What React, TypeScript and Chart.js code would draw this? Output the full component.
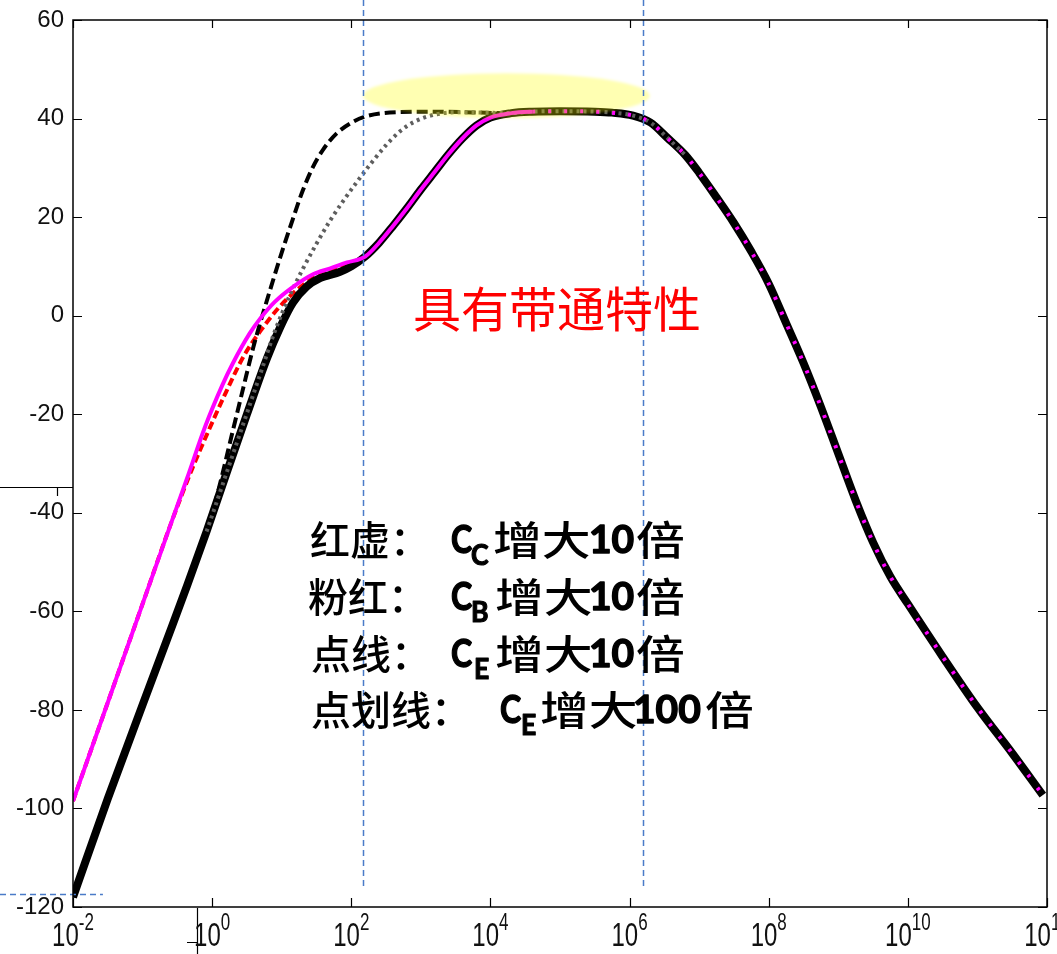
import React, { useEffect, useRef } from 'react';
import { Chart, registerables } from 'chart.js';

Chart.register(...registerables);

// ---------------- data (x = log10 of frequency, y = gain in dB) ----------------
const xTickExponents = [-2, 0, 2, 4, 6, 8, 10, 12];
const yTickValues = [-120, -100, -80, -60, -40, -20, 0, 20, 40, 60];

// shared high-frequency part (all curves coincide)
const rollLogF = [4.3, 4.6, 5.0, 5.5, 5.75, 6.05, 6.3, 6.55, 6.8, 7.0, 7.25, 7.5, 7.75, 8.0, 8.25, 8.5, 8.75, 9.0, 9.25, 9.5, 9.75, 10.0, 10.5, 11.0, 11.5, 11.94];
const rollDb = [41.1, 41.4, 41.5, 41.4, 41.2, 40.6, 39.2, 36.0, 32.6, 29.0, 24.0, 18.8, 13.0, 6.5, -1.5, -9.6, -18.5, -28.0, -37.5, -46.0, -53.0, -58.5, -69.2, -79.5, -88.8, -97.3];

// original circuit (thick black)
const baseLogF = [-2.0, -1.5, -1.0, -0.65, -0.36, -0.08, 0.21, 0.5, 0.79, 0.98, 1.16, 1.36, 1.55, 1.84, 2.0, 2.2, 2.4, 2.6, 2.8, 3.0, 3.2, 3.4, 3.6, 3.8, 4.0];
const baseDb = [-118, -98, -79, -65.8, -54.8, -43.8, -31.8, -20.0, -8.6, -2.3, 2.6, 5.9, 7.6, 8.9, 10.0, 12.0, 14.8, 18.2, 21.8, 25.6, 29.2, 32.8, 36.0, 38.6, 40.2];

// CB x10 (magenta)
const cbLogF = [-2.0, -1.5, -1.0, -0.6, -0.36, -0.1, 0.15, 0.3, 0.54, 0.69, 0.9, 1.12, 1.45, 1.7, 1.94, 2.2, 2.4, 2.6, 2.8, 3.0, 3.2, 3.4, 3.6, 3.8, 4.0];
const cbDb = [-98.5, -78.5, -58.5, -42.5, -33, -22.5, -14, -9.6, -3.6, -0.6, 2.8, 5.4, 8.4, 9.6, 10.8, 12.0, 14.8, 18.2, 21.8, 25.6, 29.2, 32.8, 36.0, 38.6, 40.2];

// CC x10 (red dashed)
const ccLogF = [-2.0, -1.5, -1.0, -0.6, -0.3, -0.05, 0.2, 0.45, 0.7, 0.95, 1.2, 1.45, 1.7, 1.94, 2.2, 2.4, 2.6, 2.8, 3.0, 3.2, 3.4, 3.6, 3.8, 4.0];
const ccDb = [-98.5, -78.5, -58.5, -42.5, -31.5, -23.3, -15.5, -8.3, -3.0, 1.5, 5.0, 7.6, 9.0, 10.4, 12.0, 14.8, 18.2, 21.8, 25.6, 29.2, 32.8, 36.0, 38.6, 40.2];

// CE x10 (grey dotted)
const ce10LogF = [-2.0, -1.5, -1.0, -0.65, -0.36, -0.08, 0.21, 0.5, 0.7, 0.9, 1.1, 1.3, 1.5, 1.7, 1.9, 2.1, 2.3, 2.5, 2.7, 2.9, 3.2, 3.6];
const ce10Db = [-118, -98, -79, -65.8, -54.8, -43.8, -31.8, -19.8, -11.5, -3.2, 3.6, 9.4, 14.6, 19.4, 23.6, 27.5, 31.2, 34.6, 37.4, 39.3, 40.8, 41.3];

// CE x100 (black dash-dot)
const ce100LogF = [-2.0, -1.5, -1.0, -0.65, -0.36, -0.08, 0.07, 0.3, 0.45, 0.59, 0.69, 0.85, 1.0, 1.16, 1.3, 1.45, 1.6, 1.79, 2.02, 2.22, 2.66, 3.2];
const ce100Db = [-118, -98, -79, -65.8, -54.8, -43.8, -36.5, -23.2, -14.5, -6.5, -1.5, 6.0, 12.8, 19.6, 25.3, 30.2, 33.8, 37.0, 39.3, 40.5, 41.3, 41.4];

// annotation anchors in data units
const bandEdgesLogF = [2.17, 6.19];
const bandEdgeBottomDb = -116.3;
const lowRefDb = -117.3;
const lowRefEndLogF = -1.57;
const passbandEllipseLogF = [2.17, 6.29];
const passbandEllipseDb = [40.1, 49.2];

const bandTitle = '具有带通特性';
const legendLines = [
  { prefix: '红虚：', sub: 'C', factor: '10' },
  { prefix: '粉红：', sub: 'B', factor: '10' },
  { prefix: '点线：', sub: 'E', factor: '10' },
  { prefix: '点划线：', sub: 'E', factor: '100' },
];

// ---------------- layout (pixels) ----------------
const W = 1057;
const H = 954;
const legendLayout = [
  { y: 553, prefixX: 310, cX: 451, subX: 471, zengX: 493, factorX: 589, beiX: 636 },
  { y: 610, prefixX: 308, cX: 451, subX: 471, zengX: 495, factorX: 589, beiX: 636 },
  { y: 667, prefixX: 311, cX: 451, subX: 474, zengX: 495, factorX: 589, beiX: 636 },
  { y: 723, prefixX: 311, cX: 500, subX: 521, zengX: 540, factorX: 633, beiX: 705 },
];

const CJK = '"Noto Sans CJK SC", sans-serif';
const LAT = 'Lato, "Open Sans", sans-serif';
const TICKF = '"Liberation Sans", Arial, sans-serif';

function pts(xs: number[], ys: number[]) {
  return xs.map((x, i) => ({ x, y: ys[i] }));
}

const overlayPlugin = {
  id: 'overlayPlugin',
  afterDatasetsDraw(chart: any) {
    const { ctx, chartArea: a, scales } = chart;
    const xs = scales.x;
    const ys = scales.y;
    ctx.save();

    // pass-band highlight ellipse
    const ex0 = xs.getPixelForValue(passbandEllipseLogF[0]);
    const ex1 = xs.getPixelForValue(passbandEllipseLogF[1]);
    const ey0 = ys.getPixelForValue(passbandEllipseDb[0]);
    const ey1 = ys.getPixelForValue(passbandEllipseDb[1]);
    ctx.save();
    ctx.filter = 'blur(1.5px)';
    ctx.beginPath();
    ctx.ellipse((ex0 + ex1) / 2, (ey0 + ey1) / 2, Math.abs(ex1 - ex0) / 2, Math.abs(ey1 - ey0) / 2, 0, 0, Math.PI * 2);
    ctx.fillStyle = 'rgba(255,255,0,0.3)';
    ctx.fill();
    ctx.restore();

    // blue dashed markers
    ctx.strokeStyle = '#4a7bc8';
    ctx.lineWidth = 1.5;
    ctx.setLineDash([6, 4]);
    ctx.beginPath();
    const yb = ys.getPixelForValue(bandEdgeBottomDb);
    bandEdgesLogF.forEach((v) => {
      const px = Math.round(xs.getPixelForValue(v)) + 0.5;
      ctx.moveTo(px, 0);
      ctx.lineTo(px, yb);
    });
    const yl = Math.round(ys.getPixelForValue(lowRefDb)) + 0.5;
    ctx.moveTo(0, yl);
    ctx.lineTo(xs.getPixelForValue(lowRefEndLogF), yl);
    ctx.stroke();
    ctx.setLineDash([]);

    // axes box
    ctx.strokeStyle = '#000';
    ctx.lineWidth = 1.5;
    ctx.strokeRect(a.left, a.top, a.right - a.left, a.bottom - a.top);

    // ticks (inward, all four sides)
    ctx.lineWidth = 1.2;
    ctx.beginPath();
    xTickExponents.forEach((v) => {
      const px = Math.round(xs.getPixelForValue(v)) + 0.5;
      ctx.moveTo(px, a.bottom);
      ctx.lineTo(px, a.bottom - 9);
      ctx.moveTo(px, a.top);
      ctx.lineTo(px, a.top + 8);
    });
    yTickValues.forEach((v) => {
      const py = Math.round(ys.getPixelForValue(v)) + 0.5;
      ctx.moveTo(a.left, py);
      ctx.lineTo(a.left + 9, py);
      ctx.moveTo(a.right, py);
      ctx.lineTo(a.right - 9, py);
    });
    // remnants of an overlapped axis
    ctx.moveTo(0, 487.5);
    ctx.lineTo(a.left, 487.5);
    ctx.moveTo(57.5, 488);
    ctx.lineTo(57.5, 496);
    ctx.moveTo(197.5, a.bottom + 1);
    ctx.lineTo(197.5, H);
    ctx.moveTo(187, 942.5);
    ctx.lineTo(197.5, 942.5);
    ctx.stroke();

    // y tick labels
    ctx.fillStyle = '#111';
    ctx.font = `24px ${TICKF}`;
    ctx.textAlign = 'right';
    ctx.textBaseline = 'middle';
    yTickValues.forEach((v) => {
      ctx.fillText(String(v), a.left - 9, ys.getPixelForValue(v));
    });

    // x tick labels: 10^n, vertically stretched like the source
    ctx.textAlign = 'left';
    ctx.textBaseline = 'alphabetic';
    const sy = 1.4;
    xTickExponents.forEach((v) => {
      const px = xs.getPixelForValue(v);
      ctx.font = `24px ${TICKF}`;
      const wb = ctx.measureText('10').width;
      ctx.font = `17px ${TICKF}`;
      const we = ctx.measureText(String(v)).width;
      const left = px - (wb + we) / 2;
      ctx.save();
      ctx.translate(left, 946);
      ctx.scale(1, sy);
      ctx.font = `24px ${TICKF}`;
      ctx.fillText('10', 0, 0);
      ctx.restore();
      ctx.save();
      ctx.translate(left + wb, 930);
      ctx.scale(1, sy);
      ctx.font = `17px ${TICKF}`;
      ctx.fillText(String(v), 0, 0);
      ctx.restore();
    });

    // red title
    ctx.fillStyle = '#ff0000';
    ctx.font = `48px ${CJK}`;
    ctx.textBaseline = 'middle';
    ctx.fillText(bandTitle, 413, 309);

    // legend text
    ctx.fillStyle = '#000';
    ctx.strokeStyle = '#000';
    ctx.lineJoin = 'round';
    ctx.textBaseline = 'alphabetic';
    const drawScaled = (t: string, font: string, x: number, y: number, sx: number, heavy: number) => {
      ctx.save();
      ctx.translate(x, y);
      ctx.scale(sx, 1);
      ctx.font = font;
      ctx.fillText(t, 0, 0);
      if (heavy > 0) {
        ctx.lineWidth = heavy;
        ctx.strokeText(t, 0, 0);
      }
      ctx.restore();
    };
    legendLines.forEach((ln, i) => {
      const L = legendLayout[i];
      drawScaled(ln.prefix, `500 40px ${CJK}`, L.prefixX, L.y + 2, 1, 0);
      drawScaled('C', `bold 39px ${LAT}`, L.cX, L.y, 0.82, 1.4);
      drawScaled(ln.sub, `bold 28px ${LAT}`, L.subX, L.y + 12, 0.95, 1.1);
      drawScaled('增大', `500 40px ${CJK}`, L.zengX, L.y + 2, 1.22, 0);
      drawScaled(ln.factor, `bold 39px ${LAT}`, L.factorX, L.y, 1, 1.4);
      drawScaled('倍', `500 40px ${CJK}`, L.beiX, L.y + 2, 1.22, 0);
    });

    ctx.restore();
  },
};

export default function App() {
  const ref = useRef<HTMLCanvasElement | null>(null);

  useEffect(() => {
    document.body.style.margin = '0';
    const canvas = ref.current;
    if (!canvas) return;

    const roll = pts(rollLogF, rollDb);
    const datasets: any[] = [
      {
        label: 'CB x10',
        data: [...pts(cbLogF, cbDb), ...roll],
        borderColor: '#ff00ff',
        borderWidth: 4,
        order: 0,
        segment: {
          borderDash: (c: any) => (c.p0.parsed.x >= 4.5 ? [3, 13] : undefined),
        },
      },
      {
        label: 'CE x10',
        data: [...pts(ce10LogF, ce10Db), ...roll.filter((p) => p.x <= 6.8)],
        borderColor: '#5e5e5e',
        borderWidth: 4,
        borderDash: [3, 4],
        order: 1,
        segment: {
          borderColor: (c: any) => (c.p1.parsed.x <= -0.08 ? 'rgba(0,0,0,0)' : undefined),
        },
      },
      {
        label: 'CE x100',
        data: [...pts(ce100LogF, ce100Db), ...roll],
        borderColor: '#000000',
        borderWidth: 4,
        borderDash: [11, 5],
        order: 2,
      },
      {
        label: 'original',
        data: [...pts(baseLogF, baseDb), ...roll],
        borderColor: '#000000',
        borderWidth: 8,
        order: 4,
      },
      {
        label: 'CC x10',
        data: [...pts(ccLogF, ccDb), ...roll],
        borderColor: '#ff0000',
        borderWidth: 4,
        borderDash: [8, 4],
        order: 5,
      },
    ];

    const chart = new Chart(canvas, {
      type: 'line',
      data: { datasets },
      options: {
        animation: false,
        responsive: false,
        maintainAspectRatio: false,
        devicePixelRatio: 1,
        events: [],
        layout: { padding: { left: 73, top: 20, right: 10, bottom: 47 } },
        elements: {
          point: { radius: 0 },
          line: { tension: 0.4, cubicInterpolationMode: 'monotone', borderCapStyle: 'butt', borderJoinStyle: 'round', fill: false },
        },
        scales: {
          x: { type: 'linear', min: -2, max: 12, display: false },
          y: { type: 'linear', min: -120, max: 60, display: false },
        },
        plugins: { legend: { display: false }, tooltip: { enabled: false } },
      } as any,
      plugins: [overlayPlugin],
    });

    return () => chart.destroy();
  }, []);

  return (
    <div style={{ width: W, height: H, background: '#fff' }}>
      <canvas ref={ref} width={W} height={H} style={{ display: 'block' }} />
    </div>
  );
}
